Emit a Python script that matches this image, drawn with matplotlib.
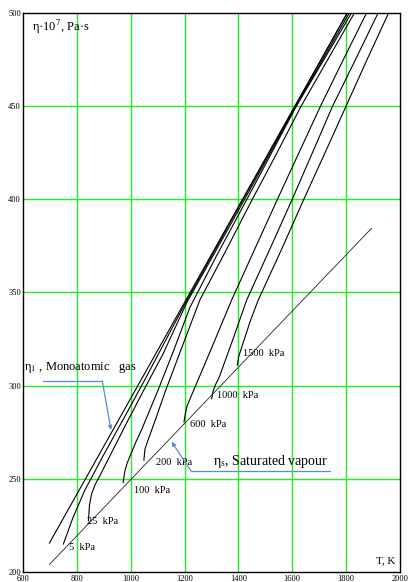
import matplotlib
matplotlib.use("Agg")
import matplotlib.pyplot as plt

plt.rcParams['font.family'] = ['Liberation Serif', 'DejaVu Serif']
plt.rcParams['mathtext.fontset'] = 'stix'

# monoatomic gas line and saturated vapour line
eta1_T = [698, 1804]
eta1_v = [215.5, 500]
sat_T = [698, 1895]
sat_v = [204, 384.5]

# isobars (T in K, eta*1e7 in Pa*s)
p5_T = [750, 765, 785, 830, 900, 965, 1050, 1200, 1400, 1600, 1805]
p5_v = [215, 221, 229, 244, 263, 280, 302.5, 343.5, 395.5, 447, 500]
p25_T = [843, 847, 855, 868, 885, 920, 985, 1050, 1120, 1208, 1400, 1609, 1812]
p25_v = [227.5, 236, 242, 247, 251.5, 261.5, 280, 298, 317, 344.5, 394, 448.5, 500]
p100_T = [972, 978, 987, 1000, 1020, 1041, 1100, 1160, 1220, 1320, 1424, 1520, 1615, 1720, 1820]
p100_v = [248, 254, 258.5, 263, 270, 276.5, 297, 319, 342, 370, 398, 424, 450, 475.5, 500]
p200_T = [1049, 1053, 1065, 1090, 1130, 1190, 1257, 1352, 1450, 1540, 1633, 1732, 1831]
p200_v = [260, 266, 271, 281, 297.5, 320.5, 346, 372, 399.5, 424, 450, 475, 500]
p600_T = [1198, 1203, 1209, 1250, 1300, 1375, 1460, 1545, 1625, 1705, 1790, 1876]
p600_v = [280.5, 285, 289, 303, 320, 346, 373, 400, 425, 450, 475, 500]
p1000_T = [1301, 1306, 1315, 1330, 1380, 1431, 1516, 1600, 1675, 1750, 1835, 1919]
p1000_v = [293, 297, 300.5, 305, 325, 346, 373, 400, 425, 450, 475, 500]
p1500_T = [1396, 1401, 1420, 1445, 1474, 1560, 1643, 1722, 1800, 1878, 1958]
p1500_v = [311, 315.5, 324, 335, 346, 373, 400, 425, 450, 475, 500]

isobars = [(p5_T, p5_v), (p25_T, p25_v), (p100_T, p100_v), (p200_T, p200_v),
           (p600_T, p600_v), (p1000_T, p1000_v), (p1500_T, p1500_v)]

# pressure labels and where they sit
p_labels = ["5  kPa", "25  kPa", "100  kPa", "200  kPa", "600  kPa", "1000  kPa", "1500  kPa"]
p_lab_T = [771, 839, 1012, 1094, 1220, 1321, 1418]
p_lab_v = [212.9, 227, 244, 258.7, 279.4, 294.5, 317.4]

xticks = [600, 800, 1000, 1200, 1400, 1600, 1800, 2000]
yticks = [200, 250, 300, 350, 400, 450, 500]

fig = plt.figure(figsize=(4.11, 5.82), dpi=100)
ax = fig.add_axes([0.056, 0.0172, 0.917, 0.9605])
ax.set_xlim(600, 2000)
ax.set_ylim(200, 500)

for t in xticks[1:-1]:
    ax.axvline(t, color='#22ee22', lw=1.0, zorder=1)
for v in yticks[1:-1]:
    ax.axhline(v, color='#22ee22', lw=1.0, zorder=1)

ax.plot(eta1_T, eta1_v, color='black', lw=0.8, zorder=3)
ax.plot(sat_T, sat_v, color='#222222', lw=0.6, zorder=3)
for T, v in isobars:
    ax.plot(T, v, color='black', lw=0.8, zorder=3)

for lab, t, v in zip(p_labels, p_lab_T, p_lab_v):
    ax.text(t, v, lab, fontsize=7.5, va='center', ha='left', zorder=4)

ax.set_xticks(xticks)
ax.set_yticks(yticks)
ax.tick_params(length=0, labelsize=6)
ax.tick_params(axis='x', pad=2.5)
ax.tick_params(axis='y', pad=1.5)
for s in ax.spines.values():
    s.set_linewidth(1.0)

ax.text(633, 492.5, r"η·10$^7$, Pa·s", fontsize=9, va='center', ha='left')
ax.text(1985, 206, "T, K", fontsize=8, va='center', ha='right')

# annotation for the monoatomic gas line
ax.text(604, 310, r"η$_1$ , Monoatomic   gas", fontsize=9, va='center', ha='left')
ax.plot([675, 894.5], [302.5, 302.5], color='#5b8bd0', lw=0.9, zorder=4)
ax.annotate("", xy=(926.8, 276.2), xytext=(894.5, 302.5),
            arrowprops=dict(arrowstyle='-|>', color='#5b8bd0', lw=0.9,
                            mutation_scale=6, shrinkA=0, shrinkB=0), zorder=4)

# annotation for the saturated vapour line
ax.text(1305, 259.2, r"η$_\mathrm{s}$, Saturated vapour", fontsize=10, va='center', ha='left')
ax.plot([1740, 1224], [254.2, 254.2], color='#5b8bd0', lw=0.9, zorder=4)
ax.annotate("", xy=(1152, 269.9), xytext=(1224, 254.2),
            arrowprops=dict(arrowstyle='-|>', color='#5b8bd0', lw=0.9,
                            mutation_scale=6, shrinkA=0, shrinkB=0), zorder=4)

fig.savefig("out.png", dpi=100)
